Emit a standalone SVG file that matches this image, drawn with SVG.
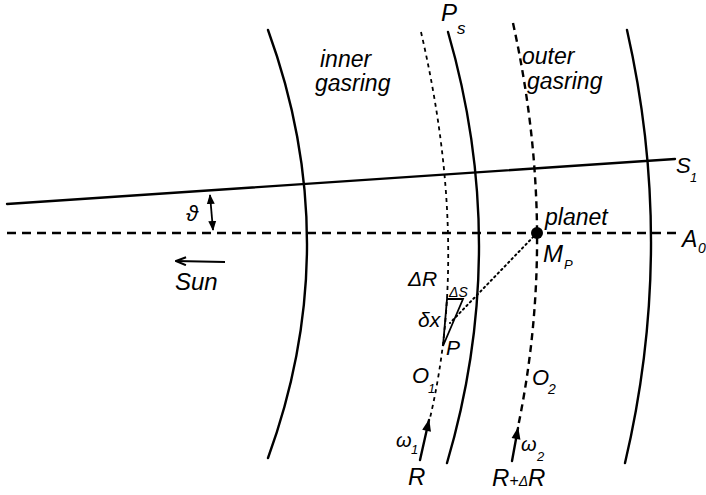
<svg xmlns="http://www.w3.org/2000/svg" width="706" height="495" viewBox="0 0 706 495">
<style>
  .solid { fill: none; stroke: #000; stroke-width: 2.4; stroke-linecap: round; }
  .dashA { fill: none; stroke: #000; stroke-width: 2.4; stroke-dasharray: 9 6; }
  .dash1 { fill: none; stroke: #000; stroke-width: 1.8; stroke-dasharray: 4 4; }
  .dash2 { fill: none; stroke: #000; stroke-width: 2.4; stroke-dasharray: 7 5; }
  .dot { fill: none; stroke: #000; stroke-width: 2; stroke-dasharray: 1.5 3.5; stroke-linecap: round; }
  .thin { fill: none; stroke: #000; stroke-width: 1.8; }
  text { font-family: "Liberation Sans", "DejaVu Sans", sans-serif; font-style: italic; fill: #000; }
  .lbl { font-size: 23px; }
</style>
<defs>
  <marker id="head" viewBox="0 0 10 10" refX="9" refY="5" markerWidth="10" markerHeight="10" markerUnits="userSpaceOnUse" orient="auto-start-reverse">
    <path d="M0,1 L10,5 L0,9 Z" fill="#000"/>
  </marker>
  <marker id="bigHead" viewBox="0 0 12 10" refX="11" refY="5" markerWidth="13" markerHeight="10" markerUnits="userSpaceOnUse" orient="auto">
    <path d="M0,0.5 L12,5 L0,9.5 Z" fill="#000"/>
  </marker>
  <marker id="openHead" viewBox="0 0 12 10" refX="11" refY="5" markerWidth="12" markerHeight="10" markerUnits="userSpaceOnUse" orient="auto">
    <path d="M1,1 L11,5 L1,9" fill="none" stroke="#000" stroke-width="2"/>
  </marker>
</defs>

<g id="rings">
  <path id="inner-arc" class="solid" d="M268,30 Q346,244 268,458"/>
  <path id="orbit-O1" class="dash1" d="M421,32 Q470.5,245 430,418"/>
  <path id="arc-Ps" class="solid" d="M448,32 Q510.5,247.5 447,463"/>
  <path id="orbit-O2" class="dash2" d="M513,23 Q558.5,230 518,427"/>
  <path id="outer-arc" class="solid" d="M627,30 Q676,246.5 625,463"/>
</g>

<g id="connectors">
  <line id="S1-line" class="solid" x1="7" y1="204" x2="675" y2="159"/>
  <line id="A0-line" class="dashA" x1="7" y1="233" x2="681" y2="233"/>
  <line id="theta-arrow" class="thin" x1="210" y1="195" x2="213" y2="230" marker-start="url(#head)" marker-end="url(#head)"/>
  <line id="sun-arrow" class="thin" x1="225" y1="262" x2="176" y2="261" marker-end="url(#openHead)"/>
  <line id="planet-dotted" class="dot" x1="537" y1="233" x2="450" y2="323"/>
  <path id="triangle" class="thin" d="M447,299 L463,299 L443,346 Z"/>
  <line id="w1-arrow" class="solid" x1="420" y1="460" x2="429" y2="420" marker-end="url(#bigHead)"/>
  <line id="w2-arrow" class="solid" x1="512" y1="461" x2="518" y2="428" marker-end="url(#bigHead)"/>
</g>

<g id="planet">
  <circle cx="537" cy="233" r="6" fill="#000"/>
</g>

<g id="labels">
  <text class="lbl" x="320" y="67">inner</text>
  <text class="lbl" x="315" y="91">gasring</text>
  <text class="lbl" x="522" y="64">outer</text>
  <text class="lbl" x="527" y="89">gasring</text>
  <text x="441" y="21" font-size="24">P</text>
  <text x="457" y="34" font-size="17">s</text>
  <text x="545" y="225" font-size="23">planet</text>
  <text x="543" y="262" font-size="24">M</text>
  <text x="564" y="269" font-size="13">P</text>
  <text x="408" y="286" font-size="21">ΔR</text>
  <text x="449" y="297" font-size="14">ΔS</text>
  <text x="418" y="327" font-size="21">δx</text>
  <text x="446" y="355" font-size="21">P</text>
  <text x="412" y="383" font-size="22">O</text>
  <text x="428" y="393" font-size="13">1</text>
  <text x="532" y="385" font-size="22">O</text>
  <text x="548" y="394" font-size="14">2</text>
  <text x="396" y="447" font-size="20">ω</text>
  <text x="411" y="454" font-size="13">1</text>
  <text x="408" y="485" font-size="24">R</text>
  <text x="521" y="451" font-size="20">ω</text>
  <text x="537" y="461" font-size="13">2</text>
  <text x="492" y="486"><tspan font-size="24">R</tspan><tspan font-size="16">+</tspan><tspan font-size="14">Δ</tspan><tspan font-size="24">R</tspan></text>
  <text x="186" y="221" font-size="22">ϑ</text>
  <text x="175" y="290" font-size="24">Sun</text>
  <text x="676" y="173" font-size="22">S</text>
  <text x="690" y="182" font-size="13">1</text>
  <text x="682" y="247" font-size="23">A</text>
  <text x="698" y="253" font-size="14">0</text>
</g>
</svg>
